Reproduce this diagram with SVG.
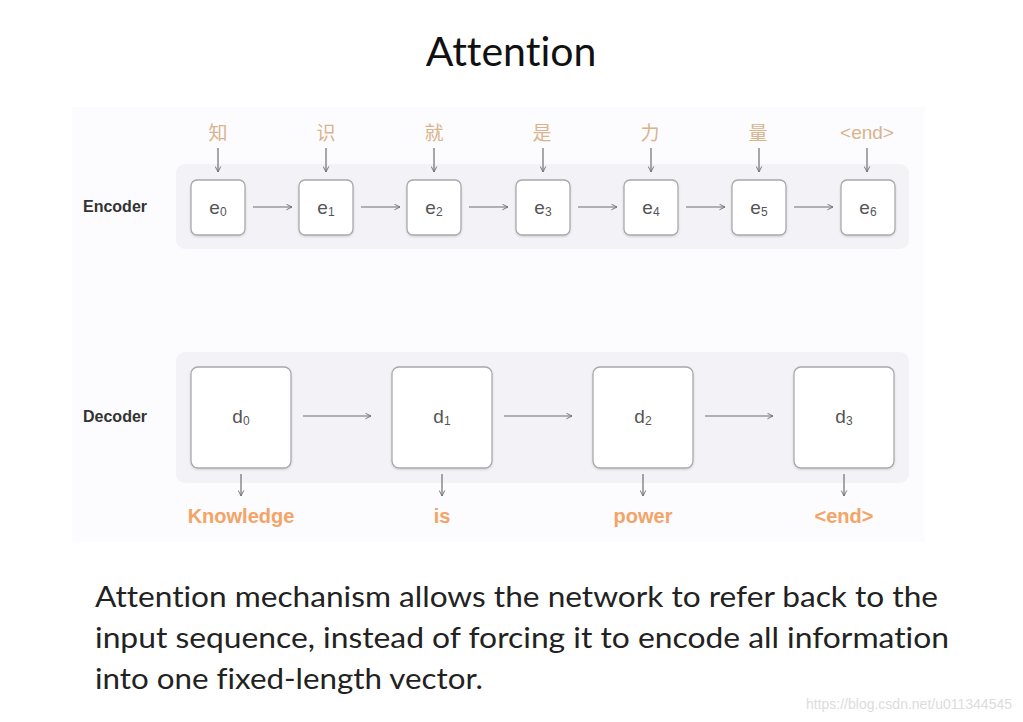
<svg xmlns="http://www.w3.org/2000/svg" width="1023" height="722" viewBox="0 0 1023 722">
<style>
.band{fill:#f3f2f7}
.box{fill:#fff;stroke:#a9a9ad;stroke-width:1.3}
.lbl{font-family:"Liberation Sans",Arial,sans-serif;font-size:19px;fill:#555;text-anchor:middle}
.sub{font-size:12px}
.zh{font-family:"Liberation Sans","Noto Sans CJK SC",sans-serif;font-size:19px;fill:#d8b48c;text-anchor:middle}
.out{font-family:"Liberation Sans",Arial,sans-serif;font-size:20px;font-weight:bold;fill:#f3a466;text-anchor:middle}
.side{font-family:"Liberation Sans",Arial,sans-serif;font-size:16px;font-weight:bold;fill:#333}
.con line{stroke:#6e6e72;stroke-width:1.2;marker-end:url(#ah)}
.body{font-family:Lato,"Open Sans",sans-serif;font-size:29px;fill:#222;font-variant-ligatures:none}
</style>
<defs>
<marker id="ah" viewBox="0 0 10 10" refX="9" refY="5" markerWidth="7" markerHeight="7" orient="auto" markerUnits="userSpaceOnUse">
<path d="M1,1 L9,5 L1,9" fill="none" stroke="#6e6e72" stroke-width="1.3"/>
</marker>
<filter id="sh" x="-20%" y="-20%" width="140%" height="140%">
<feDropShadow dx="0" dy="1" stdDeviation="1" flood-color="#000" flood-opacity="0.15"/>
</filter>
</defs>
<rect width="1023" height="722" fill="#fff"/>
<text x="511" y="66" font-family="Lato,'Open Sans',sans-serif" font-size="41" fill="#111" text-anchor="middle" style="font-variant-ligatures:none">Attention</text>
<rect x="72" y="107" width="853" height="435" fill="#fcfbfd"/>
<rect class="band" x="176" y="164" width="733" height="85" rx="9"/>
<rect class="band" x="176" y="352" width="733" height="131" rx="9"/>
<text class="side" x="83" y="212">Encoder</text>
<text class="side" x="83" y="422">Decoder</text>

<g id="enc0"><text class="zh" x="218" y="140">知</text><rect class="box" filter="url(#sh)" x="191" y="180" width="54" height="55" rx="6"/><text class="lbl" x="218" y="214">e<tspan class="sub" dy="2">0</tspan></text></g>
<g id="enc1"><text class="zh" x="326" y="140">识</text><rect class="box" filter="url(#sh)" x="299" y="180" width="54" height="55" rx="6"/><text class="lbl" x="326" y="214">e<tspan class="sub" dy="2">1</tspan></text></g>
<g id="enc2"><text class="zh" x="434" y="140">就</text><rect class="box" filter="url(#sh)" x="407" y="180" width="54" height="55" rx="6"/><text class="lbl" x="434" y="214">e<tspan class="sub" dy="2">2</tspan></text></g>
<g id="enc3"><text class="zh" x="542" y="140">是</text><rect class="box" filter="url(#sh)" x="516" y="180" width="54" height="55" rx="6"/><text class="lbl" x="543" y="214">e<tspan class="sub" dy="2">3</tspan></text></g>
<g id="enc4"><text class="zh" x="650" y="140">力</text><rect class="box" filter="url(#sh)" x="624" y="180" width="54" height="55" rx="6"/><text class="lbl" x="651" y="214">e<tspan class="sub" dy="2">4</tspan></text></g>
<g id="enc5"><text class="zh" x="758" y="140">量</text><rect class="box" filter="url(#sh)" x="732" y="180" width="54" height="55" rx="6"/><text class="lbl" x="759" y="214">e<tspan class="sub" dy="2">5</tspan></text></g>
<g id="enc6"><text class="zh" x="867" y="139">&lt;end&gt;</text><rect class="box" filter="url(#sh)" x="841" y="180" width="54" height="55" rx="6"/><text class="lbl" x="868" y="214">e<tspan class="sub" dy="2">6</tspan></text></g>

<g id="dec0"><rect class="box" filter="url(#sh)" x="191" y="367" width="100" height="101" rx="7"/><text class="lbl" x="241" y="423">d<tspan class="sub" dy="2">0</tspan></text><text class="out" x="241" y="523">Knowledge</text></g>
<g id="dec1"><rect class="box" filter="url(#sh)" x="392" y="367" width="100" height="101" rx="7"/><text class="lbl" x="442" y="423">d<tspan class="sub" dy="2">1</tspan></text><text class="out" x="442" y="523">is</text></g>
<g id="dec2"><rect class="box" filter="url(#sh)" x="593" y="367" width="100" height="101" rx="7"/><text class="lbl" x="643" y="423">d<tspan class="sub" dy="2">2</tspan></text><text class="out" x="643" y="523">power</text></g>
<g id="dec3"><rect class="box" filter="url(#sh)" x="794" y="367" width="100" height="101" rx="7"/><text class="lbl" x="844" y="423">d<tspan class="sub" dy="2">3</tspan></text><text class="out" x="844" y="523">&lt;end&gt;</text></g>

<g id="connectors" class="con">
<line x1="218" y1="148" x2="218" y2="172"/>
<line x1="326" y1="148" x2="326" y2="172"/>
<line x1="434" y1="148" x2="434" y2="172"/>
<line x1="543" y1="148" x2="543" y2="172"/>
<line x1="651" y1="148" x2="651" y2="172"/>
<line x1="759" y1="148" x2="759" y2="172"/>
<line x1="867" y1="148" x2="867" y2="172"/>
<line x1="253" y1="207" x2="292" y2="207"/>
<line x1="361" y1="207" x2="400" y2="207"/>
<line x1="469" y1="207" x2="508" y2="207"/>
<line x1="578" y1="207" x2="617" y2="207"/>
<line x1="686" y1="207" x2="725" y2="207"/>
<line x1="794" y1="207" x2="833" y2="207"/>
<line x1="303" y1="416" x2="371" y2="416"/>
<line x1="504" y1="416" x2="572" y2="416"/>
<line x1="705" y1="416" x2="773" y2="416"/>
<line x1="241" y1="474" x2="241" y2="496"/>
<line x1="442" y1="474" x2="442" y2="496"/>
<line x1="643" y1="474" x2="643" y2="496"/>
<line x1="844" y1="474" x2="844" y2="496"/>
</g>

<text class="body" x="95" y="607" textLength="843" lengthAdjust="spacingAndGlyphs">Attention mechanism allows the network to refer back to the</text>
<text class="body" x="95" y="648" textLength="854" lengthAdjust="spacingAndGlyphs">input sequence, instead of forcing it to encode all information</text>
<text class="body" x="95" y="689" textLength="388" lengthAdjust="spacingAndGlyphs">into one fixed-length vector.</text>
<text x="1012" y="709" font-family="'Liberation Sans',Arial,sans-serif" font-size="14" fill="#dcdcdc" text-anchor="end">https://blog.csdn.net/u011344545</text>
</svg>
